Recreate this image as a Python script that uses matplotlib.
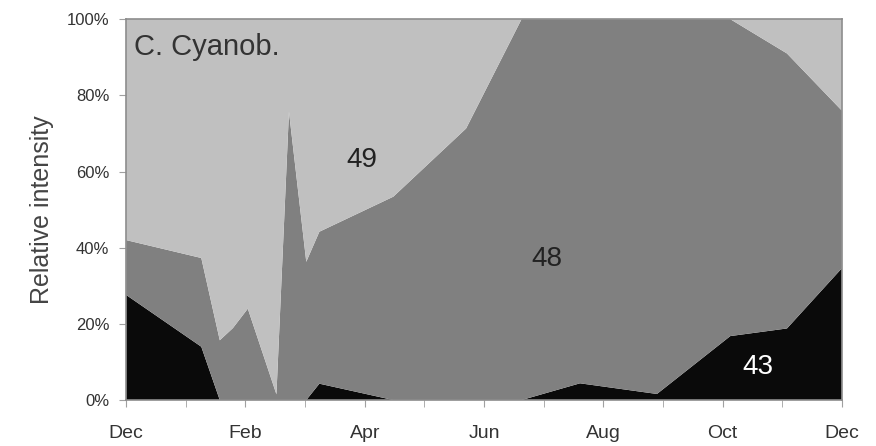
import numpy as np
import matplotlib
matplotlib.use('Agg')
import matplotlib.pyplot as plt
from matplotlib.ticker import FixedLocator, PercentFormatter

plt.rcParams['font.family'] = ['Liberation Sans', 'DejaVu Sans']

# sampling dates, in months since 1 Dec
months = [0, 1.26, 1.57, 1.79, 2.04, 2.52, 2.73, 3.02, 3.24, 4.48, 5.70,
          6.63, 7.61, 8.90, 10.13, 11.08, 12.0]
# relative intensity (%) of each peak, stacked bottom to top
peak43 = [27.6, 14.0, 0, 0, 0, 0, 0, 0, 4.3, 0, 0, 0, 4.4, 1.6, 16.8, 18.8, 34.6]
peak48 = [14.4, 23.3, 15.7, 18.9, 24.0, 1.5, 75.7, 36.3, 39.9, 53.4, 71.3,
          100, 95.6, 98.4, 83.2, 72.2, 41.4]
peak49 = [58.0, 62.7, 84.3, 81.1, 76.0, 98.5, 24.3, 63.7, 55.8, 46.6, 28.7,
          0, 0, 0, 0, 9.0, 24.0]

month_ticks = [0, 2, 4, 6, 8, 10, 12]
month_labels = ['Dec', 'Feb', 'Apr', 'Jun', 'Aug', 'Oct', 'Dec']
pct_ticks = [0, 20, 40, 60, 80, 100]

fig = plt.figure(figsize=(8.76, 4.46), dpi=100)
ax = fig.add_axes([0.144, 0.103, 0.817, 0.854])

ax.stackplot(months, peak43, peak48, peak49,
             colors=['#0a0a0a', '#808080', '#c0c0c0'], linewidth=0)

ax.set_xlim(0, 12)
ax.set_ylim(0, 100)
ax.set_xticks(month_ticks)
ax.set_xticklabels(month_labels)
ax.xaxis.set_minor_locator(FixedLocator(np.arange(1, 12, 2)))
ax.set_yticks(pct_ticks)
ax.yaxis.set_major_formatter(PercentFormatter(decimals=0))

for s in ax.spines.values():
    s.set_color('#8c8c8c')
    s.set_linewidth(1.2)

ax.tick_params(axis='both', which='both', direction='out', length=5,
               color='#a0a0a0', labelcolor='#333333')
ax.tick_params(axis='y', labelsize=12, pad=7)
ax.tick_params(axis='x', labelsize=14, pad=13)
ax.set_ylabel('Relative intensity', fontsize=18, color='#444444', labelpad=9)

ax.text(0.14, 90.5, 'C. Cyanob.', fontsize=21, color='#333333')
ax.text(3.95, 63, '49', fontsize=20, color='#222222', ha='center', va='center')
ax.text(7.06, 37, '48', fontsize=20, color='#222222', ha='center', va='center')
ax.text(10.6, 8.7, '43', fontsize=20, color='white', ha='center', va='center')

plt.savefig('out.png', dpi=100)
